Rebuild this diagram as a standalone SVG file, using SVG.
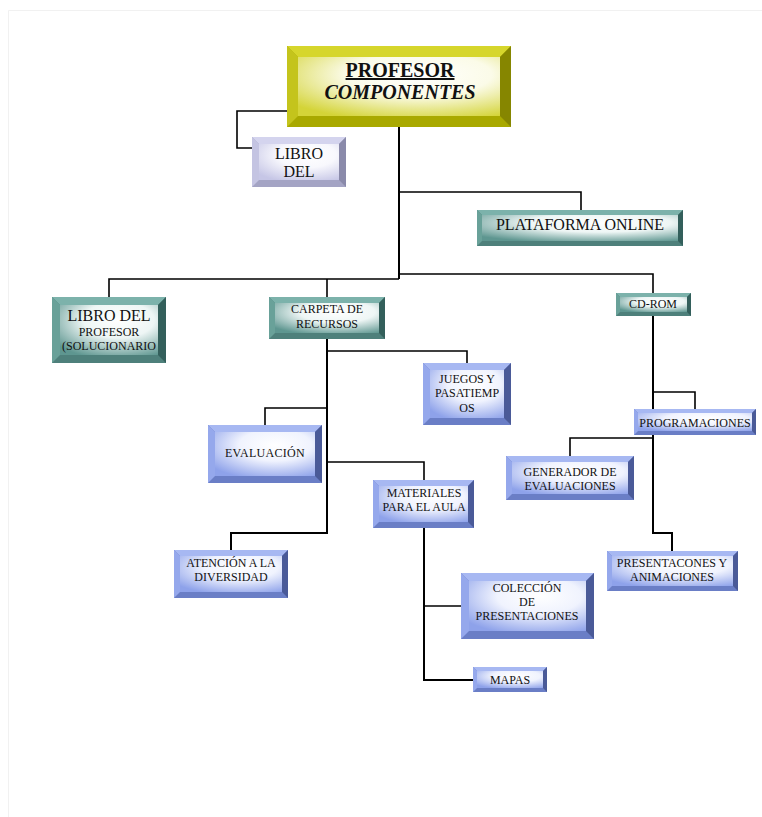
<svg xmlns="http://www.w3.org/2000/svg" width="762" height="817" viewBox="0 0 762 817">
<style>
text{font-family:"Liberation Serif","Times New Roman",serif;fill:#111;text-anchor:middle}
.t12{font-size:12px}
.t16{font-size:16px}
.conn{fill:none;stroke:#000;stroke-width:1.6}
.thick{stroke-width:2}
.page{fill:none;stroke:#f1f1f1;stroke-width:1}
.y .bb{fill:#a9a900}.y .bt{fill:#d6d62c}.y .bl{fill:#c4c41c}.y .br{fill:#868600}.y .f{fill:url(#gy)}
.v .bb{fill:#a4a4c4}.v .bt{fill:#d4d4ee}.v .bl{fill:#c4c4e2}.v .br{fill:#8a8aaa}.v .f{fill:url(#gv)}
.g .bb{fill:#4e807b}.g .bt{fill:#7cb2ab}.g .bl{fill:#69a199}.g .br{fill:#335f5b}.g .f{fill:url(#gg)}
.b .bb{fill:#6a7ec6}.b .bt{fill:#a7b8f2}.b .bl{fill:#95a8ec}.b .br{fill:#4a5a98}.b .f{fill:url(#gb)}
</style>
<defs>
<radialGradient id="gy" cx="0.6" cy="0.3" r="0.8"><stop offset="0" stop-color="#fff"/><stop offset="0.45" stop-color="#fbfbe8"/><stop offset="1" stop-color="#d4d438"/></radialGradient>
<radialGradient id="gv" cx="0.6" cy="0.3" r="0.8"><stop offset="0" stop-color="#fff"/><stop offset="0.45" stop-color="#f8f8fd"/><stop offset="1" stop-color="#c6c6e6"/></radialGradient>
<radialGradient id="gg" cx="0.6" cy="0.3" r="0.8"><stop offset="0" stop-color="#fff"/><stop offset="0.45" stop-color="#eef6f5"/><stop offset="1" stop-color="#5e9690"/></radialGradient>
<radialGradient id="gb" cx="0.6" cy="0.3" r="0.8"><stop offset="0" stop-color="#fff"/><stop offset="0.45" stop-color="#f0f3fe"/><stop offset="1" stop-color="#8ea2ea"/></radialGradient>
</defs>
<rect width="762" height="817" fill="#fff"/>
<path class="page" d="M8.5,817 V10.5 H762"/>

<g id="connectors">
<path class="conn" d="M287,111 H237 V148 H252"/>
<path class="conn thick" d="M399,127 V279"/>
<path class="conn" d="M399,192 H581 V210"/>
<path class="conn" d="M399,279 H109 V297"/>
<path class="conn" d="M327,279 V297"/>
<path class="conn" d="M399,274 H653 V293"/>
<path class="conn thick" d="M327,339 V533 H231 V550"/>
<path class="conn" d="M327,351 H467 V363"/>
<path class="conn" d="M327,408 H265 V425"/>
<path class="conn" d="M327,462 H424 V480"/>
<path class="conn thick" d="M424,528 V680 H473"/>
<path class="conn" d="M424,606 H461"/>
<path class="conn thick" d="M653,316 V533 H672 V551"/>
<path class="conn" d="M653,392 H695 V409"/>
<path class="conn" d="M653,438 H570 V456"/>
</g>

<g id="profesor" class="y">
<rect class="bb" x="287" y="46" width="224" height="81"/>
<polygon class="bt" points="287,46 511,46 500,57 298,57"/>
<polygon class="bl" points="287,46 298,57 298,116 287,127"/>
<polygon class="br" points="511,46 511,127 500,116 500,57"/>
<rect class="f" x="298" y="57" width="202" height="59"/>
<text x="400" y="77" style="font-size:20px;font-weight:bold;text-decoration:underline">PROFESOR</text>
<text x="400" y="99" style="font-size:20px;font-weight:bold;font-style:italic">COMPONENTES</text>
</g>

<g id="libro-del" class="v">
<rect class="bb" x="252" y="137" width="94" height="50"/>
<polygon class="bt" points="252,137 346,137 339,144 259,144"/>
<polygon class="bl" points="252,137 259,144 259,180 252,187"/>
<polygon class="br" points="346,137 346,187 339,180 339,144"/>
<rect class="f" x="259" y="144" width="80" height="36"/>
<text class="t16" x="299" y="159">LIBRO</text>
<text class="t16" x="299" y="177">DEL</text>
</g>

<g id="plataforma" class="g">
<rect class="bb" x="477" y="210" width="206" height="36"/>
<polygon class="bt" points="477,210 683,210 678,215 482,215"/>
<polygon class="bl" points="477,210 482,215 482,241 477,246"/>
<polygon class="br" points="683,210 683,246 678,241 678,215"/>
<rect class="f" x="482" y="215" width="196" height="26"/>
<text class="t16" x="580" y="230">PLATAFORMA ONLINE</text>
</g>

<g id="libro-profesor" class="g">
<rect class="bb" x="52" y="297" width="114" height="66"/>
<polygon class="bt" points="52,297 166,297 158,305 60,305"/>
<polygon class="bl" points="52,297 60,305 60,355 52,363"/>
<polygon class="br" points="166,297 166,363 158,355 158,305"/>
<rect class="f" x="60" y="305" width="98" height="50"/>
<text class="t16" x="109" y="321">LIBRO DEL</text>
<text class="t12" x="109" y="336">PROFESOR</text>
<text class="t12" x="109" y="350">(SOLUCIONARIO</text>
</g>

<g id="carpeta" class="g">
<rect class="bb" x="269" y="297" width="116" height="42"/>
<polygon class="bt" points="269,297 385,297 379,303 275,303"/>
<polygon class="bl" points="269,297 275,303 275,333 269,339"/>
<polygon class="br" points="385,297 385,339 379,333 379,303"/>
<rect class="f" x="275" y="303" width="104" height="30"/>
<text class="t12" x="327" y="313">CARPETA DE</text>
<text class="t12" x="327" y="328">RECURSOS</text>
</g>

<g id="cdrom" class="g">
<rect class="bb" x="616" y="293" width="75" height="23"/>
<polygon class="bt" points="616,293 691,293 687,297 620,297"/>
<polygon class="bl" points="616,293 620,297 620,312 616,316"/>
<polygon class="br" points="691,293 691,316 687,312 687,297"/>
<rect class="f" x="620" y="297" width="67" height="15"/>
<text class="t12" x="653" y="308">CD-ROM</text>
</g>

<g id="juegos" class="b">
<rect class="bb" x="423" y="363" width="88" height="62"/>
<polygon class="bt" points="423,363 511,363 504,370 430,370"/>
<polygon class="bl" points="423,363 430,370 430,418 423,425"/>
<polygon class="br" points="511,363 511,425 504,418 504,370"/>
<rect class="f" x="430" y="370" width="74" height="48"/>
<text class="t12" x="467" y="383">JUEGOS Y</text>
<text class="t12" x="467" y="397">PASATIEMP</text>
<text class="t12" x="467" y="412">OS</text>
</g>

<g id="evaluacion" class="b">
<rect class="bb" x="208" y="425" width="114" height="58"/>
<polygon class="bt" points="208,425 322,425 315,432 215,432"/>
<polygon class="bl" points="208,425 215,432 215,476 208,483"/>
<polygon class="br" points="322,425 322,483 315,476 315,432"/>
<rect class="f" x="215" y="432" width="100" height="44"/>
<text class="t12" x="265" y="457" style="letter-spacing:0.3px">EVALUACIÓN</text>
</g>

<g id="materiales" class="b">
<rect class="bb" x="373" y="480" width="101" height="48"/>
<polygon class="bt" points="373,480 474,480 468,486 379,486"/>
<polygon class="bl" points="373,480 379,486 379,522 373,528"/>
<polygon class="br" points="474,480 474,528 468,522 468,486"/>
<rect class="f" x="379" y="486" width="89" height="36"/>
<text class="t12" x="424" y="497">MATERIALES</text>
<text class="t12" x="424" y="511">PARA EL AULA</text>
</g>

<g id="atencion" class="b">
<rect class="bb" x="174" y="550" width="114" height="48"/>
<polygon class="bt" points="174,550 288,550 282,556 180,556"/>
<polygon class="bl" points="174,550 180,556 180,592 174,598"/>
<polygon class="br" points="288,550 288,598 282,592 282,556"/>
<rect class="f" x="180" y="556" width="102" height="36"/>
<text class="t12" x="231" y="567">ATENCIÓN A LA</text>
<text class="t12" x="231" y="581">DIVERSIDAD</text>
</g>

<g id="coleccion" class="b">
<rect class="bb" x="461" y="573" width="133" height="66"/>
<polygon class="bt" points="461,573 594,573 586,581 469,581"/>
<polygon class="bl" points="461,573 469,581 469,631 461,639"/>
<polygon class="br" points="594,573 594,639 586,631 586,581"/>
<rect class="f" x="469" y="581" width="117" height="50"/>
<text class="t12" x="527" y="592">COLECCIÓN</text>
<text class="t12" x="527" y="606">DE</text>
<text class="t12" x="527" y="620">PRESENTACIONES</text>
</g>

<g id="mapas" class="b">
<rect class="bb" x="473" y="667" width="74" height="25"/>
<polygon class="bt" points="473,667 547,667 543,671 477,671"/>
<polygon class="bl" points="473,667 477,671 477,688 473,692"/>
<polygon class="br" points="547,667 547,692 543,688 543,671"/>
<rect class="f" x="477" y="671" width="66" height="17"/>
<text class="t12" x="510" y="684">MAPAS</text>
</g>

<g id="programaciones" class="b">
<rect class="bb" x="634" y="409" width="122" height="26"/>
<polygon class="bt" points="634,409 756,409 752,413 638,413"/>
<polygon class="bl" points="634,409 638,413 638,431 634,435"/>
<polygon class="br" points="756,409 756,435 752,431 752,413"/>
<rect class="f" x="638" y="413" width="114" height="18"/>
<text class="t12" x="695" y="427">PROGRAMACIONES</text>
</g>

<g id="generador" class="b">
<rect class="bb" x="506" y="456" width="128" height="44"/>
<polygon class="bt" points="506,456 634,456 628,462 512,462"/>
<polygon class="bl" points="506,456 512,462 512,494 506,500"/>
<polygon class="br" points="634,456 634,500 628,494 628,462"/>
<rect class="f" x="512" y="462" width="116" height="32"/>
<text class="t12" x="570" y="476">GENERADOR DE</text>
<text class="t12" x="570" y="490">EVALUACIONES</text>
</g>

<g id="presentaciones" class="b">
<rect class="bb" x="607" y="551" width="131" height="40"/>
<polygon class="bt" points="607,551 738,551 733,556 612,556"/>
<polygon class="bl" points="607,551 612,556 612,586 607,591"/>
<polygon class="br" points="738,551 738,591 733,586 733,556"/>
<rect class="f" x="612" y="556" width="121" height="30"/>
<text class="t12" x="672" y="567">PRESENTACONES Y</text>
<text class="t12" x="672" y="581">ANIMACIONES</text>
</g>
</svg>
